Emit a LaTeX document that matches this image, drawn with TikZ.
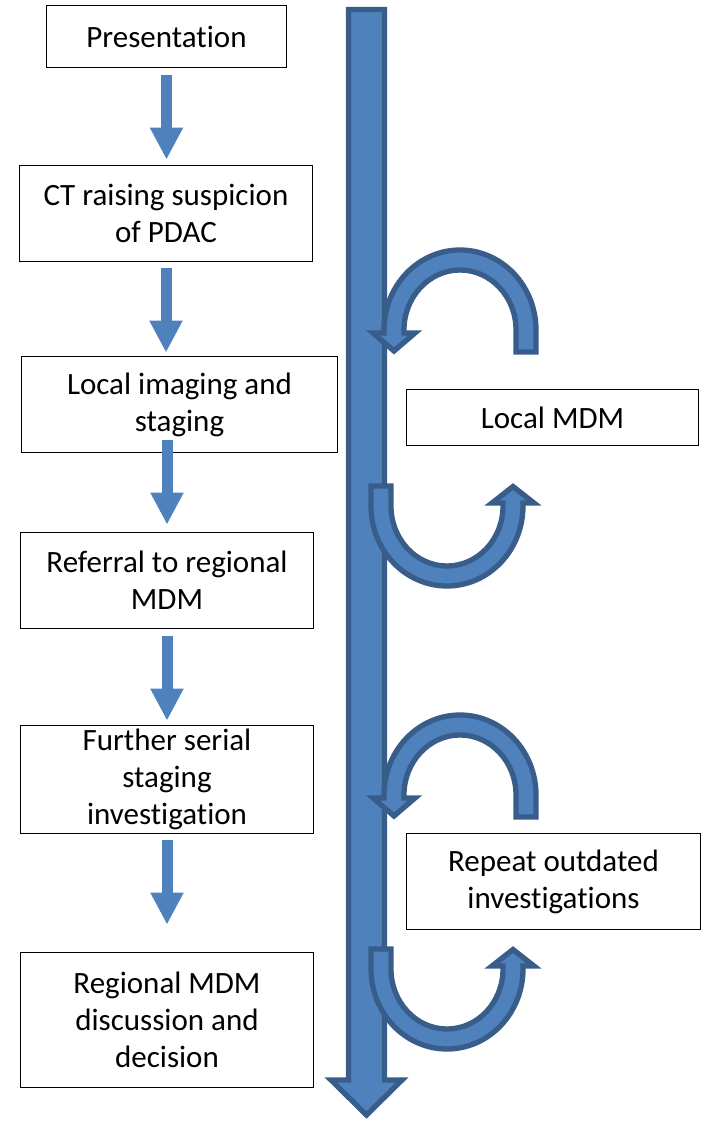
\documentclass[tikz,border=0pt]{standalone}
\usepackage{fontspec}
\setmainfont{Carlito}[Ligatures=NoCommon]
\usetikzlibrary{arrows.meta}
\definecolor{boxblue}{HTML}{4F81BD}
\definecolor{edgeblue}{HTML}{385D8A}

\begin{document}
\begin{tikzpicture}[x=1pt,y=-1pt,
  stepbox/.style={draw=black,line width=1.8pt,fill=white,align=center,inner sep=0pt,
    font=\fontsize{31}{37}\selectfont},
  steparrow/.style={boxblue,line width=11pt,-{Triangle[width=31pt,length=32pt]}},
  bandarrow/.style={fill=boxblue,draw=edgeblue,line width=5.3pt,line join=miter}]
  \useasboundingbox (0,0) rectangle (706,1124);

  \node[stepbox,minimum width=240pt,minimum height=62pt] (present) at (166.5,36.5) {Presentation};
  \node[stepbox,minimum width=293pt,minimum height=96pt] (suspect) at (166,213.5) {CT raising suspicion\\of PDAC};
  \node[stepbox,minimum width=316pt,minimum height=96pt] (imaging) at (179.5,404.5) {Local imaging and\\staging};
  \node[stepbox,minimum width=293pt,minimum height=96pt] (referral) at (167,580.5) {Referral to regional\\MDM};
  \node[stepbox,minimum width=293pt,minimum height=108pt] (serial) at (167,779.5) {Further serial\\staging\\investigation};
  \node[stepbox,minimum width=293pt,minimum height=135pt] (decision) at (167,1020) {Regional MDM\\discussion and\\decision};
  \node[stepbox,minimum width=292pt,minimum height=56pt] (localmdm) at (552.5,417.5) {Local MDM};
  \node[stepbox,minimum width=294pt,minimum height=96pt] (repeat) at (553.5,881.5) {Repeat outdated\\investigations};

  \draw[steparrow,shorten <=7pt,shorten >=5pt] (present.south) -- (present.south |- suspect.north);
  \draw[steparrow,shorten <=6pt,shorten >=3pt] (suspect.south) -- (suspect.south |- imaging.north);
  \draw[steparrow,shorten <=-13pt,shorten >=7pt] (imaging.south -| referral.north) -- (referral.north);
  \draw[steparrow,shorten <=7pt,shorten >=4pt] (referral.south) -- (referral.south |- serial.north);
  \draw[steparrow,shorten <=6pt,shorten >=27pt] (serial.south) -- (serial.south |- decision.north);

  % timeline
  \draw[bandarrow] (348.5,9.5) -- (384.5,9.5) -- (384.5,1080) -- (402,1080) -- (366.5,1115)
    -- (331,1080) -- (348.5,1080) -- cycle;

  % loops back and forth
  \foreach \dy in {0,465}
    \draw[bandarrow,shift={(0,\dy)}] (536,352) -- (536,330)
      arc[start angle=0,end angle=-180,x radius=76,y radius=80] -- (384,333) -- (373,333)
      -- (394,351) -- (415,333) -- (404,333) -- (404,330)
      arc[start angle=180,end angle=360,x radius=56,y radius=60] -- (516,352) -- cycle;
  \foreach \dy in {0,463}
    \draw[bandarrow,shift={(0,\dy)}] (371,486) -- (371,506)
      arc[start angle=180,end angle=0,x radius=76,y radius=80] -- (523,503) -- (534,503)
      -- (513,486.5) -- (492,503) -- (503,503) -- (503,506)
      arc[start angle=0,end angle=180,x radius=56,y radius=60] -- (391,486) -- cycle;
\end{tikzpicture}
\end{document}
